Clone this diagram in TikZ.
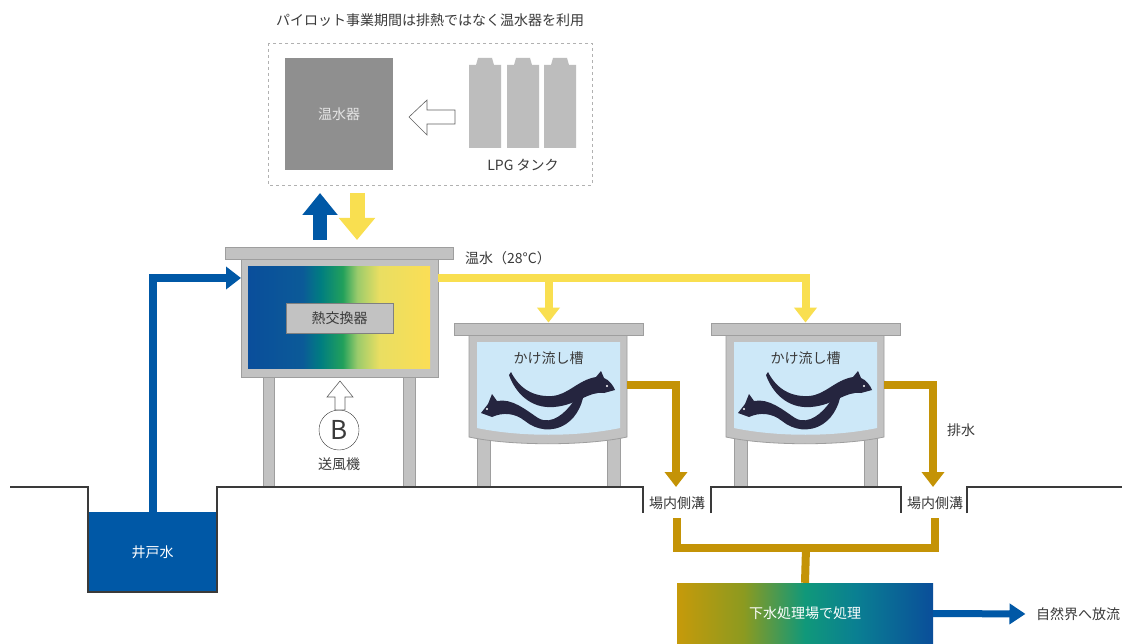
\documentclass[tikz,border=0pt]{standalone}
\usepackage{fontspec}
\setmainfont{Noto Sans CJK JP}
\usetikzlibrary{arrows.meta}

\definecolor{wellblue}{HTML}{0058A6}
\definecolor{hotyellow}{HTML}{F9DF50}
\definecolor{drainbrown}{HTML}{C49306}
\definecolor{framegray}{HTML}{C2C2C2}
\definecolor{edgegray}{HTML}{9E9E9E}
\definecolor{heatergray}{HTML}{8F8F8F}
\definecolor{lpggray}{HTML}{BDBDBD}
\definecolor{tankblue}{HTML}{CDE8F8}
\definecolor{eelnavy}{HTML}{25253F}
\definecolor{textgray}{HTML}{3A3A3A}

% blue (cold) to yellow (warm) across the exchanger
\definecolor{hxa}{HTML}{0A4E9B}
\definecolor{hxb}{HTML}{0B5A98}
\definecolor{hxc}{HTML}{007E80}
\definecolor{hxd}{HTML}{22A05B}
\definecolor{hxe}{HTML}{9ACB6B}
\definecolor{hxf}{HTML}{E9DE62}
\definecolor{hxg}{HTML}{FBDE55}
\pgfdeclarehorizontalshading{hxshade}{100bp}{color(0bp)=(hxa); color(25bp)=(hxa);
  color(40bp)=(hxb); color(45bp)=(hxc); color(51bp)=(hxd); color(55bp)=(hxe);
  color(61bp)=(hxf); color(75bp)=(hxg); color(100bp)=(hxg)}

% sewage plant: brown water in, blue water out
\definecolor{spa}{HTML}{C69A0A}
\definecolor{spb}{HTML}{8C9A20}
\definecolor{spc}{HTML}{10987A}
\definecolor{spd}{HTML}{0A7F92}
\definecolor{spe}{HTML}{0A4E9A}
\pgfdeclarehorizontalshading{plantshade}{100bp}{color(0bp)=(spa); color(25bp)=(spa);
  color(38bp)=(spb); color(50bp)=(spc); color(60bp)=(spd); color(75bp)=(spe); color(100bp)=(spe)}

% two eels, in the coordinates of the first tank
\newcommand\drawEels{%
  \fill[eelnavy] (511,372) .. controls (520,390) and (535,397) .. (552,396)
    .. controls (568,395) and (578,380) .. (596,377) -- (601,371) -- (604,378)
    .. controls (609,380) and (613,385) .. (615,390) -- (604,393)
    .. controls (588,391) and (578,405) .. (554,407)
    .. controls (530,409) and (515,392) .. (509,375) -- cycle;
  \fill[eelnavy] (481,413) -- (488,404) -- (492,394) -- (497,401)
    .. controls (512,398) and (526,410) .. (538,418)
    .. controls (552,426) and (566,412) .. (573,402)
    .. controls (577,397) and (580,394) .. (584,392)
    .. controls (583,402) and (578,416) .. (566,424)
    .. controls (552,433) and (536,430) .. (525,421)
    .. controls (515,413) and (503,412) .. (492,417) -- cycle;
  \fill[white] (607,386) circle (1.1) (487,409) circle (1.1);
}

\begin{document}
\begin{tikzpicture}[x=1pt,y=-1pt,
    every node/.style={text=textgray,font=\fontsize{14}{16}\selectfont},
    frame/.style={fill=framegray,draw=edgegray,line width=0.8pt},
    pipe/.style={line width=8pt},
    pipetip/.style={-{Triangle[width=22pt,length=15pt]}},
    ground/.style={draw=textgray,line width=1.1pt},
    hollow/.style={draw=textgray!80,fill=white,line width=0.6pt}]
  \fill[white] (0,0) rectangle (1127,644);
  \useasboundingbox (0,0) rectangle (1127,644);

  % water heater fed by LPG during the pilot
  \node (note) at (430,20) {パイロット事業期間は排熱ではなく温水器を利用};
  \draw[edgegray!80,dash pattern=on 3pt off 3pt] (268,43) rectangle (592,185);
  \node[fill=heatergray,minimum width=108pt,minimum height=112pt,text=white!90!black] (heater) at (339,114) {温水器};
  \foreach \x in {469,507,544}
    \fill[lpggray] (\x,148) -- (\x,65) -- (\x+7,65) -- (\x+9,58) -- (\x+23,58)
      -- (\x+25,65) -- (\x+32,65) -- (\x+32,148) -- cycle;
  \node (lpg) at (523,165) {LPG タンク};
  \draw[hollow] (409,117) -- (427,100) -- (427,110) -- (455,110) -- (455,124)
    -- (427,124) -- (427,135) -- cycle;
  \draw[wellblue,line width=14pt,-{Triangle[width=34pt,length=22pt]}] (320,240) -- (320,193);
  \draw[hotyellow,line width=15pt,-{Triangle[width=35pt,length=22pt]}] (357,193) -- (357,240);

  % heat exchanger
  \draw[frame] (263,377) rectangle (274,487);
  \draw[frame] (403,377) rectangle (415,487);
  \node[frame,minimum width=197pt,minimum height=118pt] (hx) at (339.5,318) {};
  \node[frame,minimum width=228pt,minimum height=12pt] (hxtop) at (339,253) {};
  \shade[shading=hxshade] (248,267) rectangle (430,368);
  \node[fill=framegray,draw=gray,line width=0.6pt,minimum width=107pt,minimum height=30pt] (hxlabel) at (339.5,318) {熱交換器};
  \coordinate (hxin) at (241,278);
  \coordinate (hxout) at (438,278);

  % blower
  \node[circle,draw=textgray,fill=white,minimum size=40pt,inner sep=0pt,font=\fontsize{26}{28}\selectfont] (fan) at (339,430) {B};
  \draw[hollow] (335,410) -- (335,397) -- (327,397) -- (340,381) -- (353,397)
    -- (345,397) -- (345,410) -- cycle;
  \node (fanlabel) at (339,464) {送風機};

  % eel tanks
  \foreach \dx/\n in {0/1,257/2}{
    \begin{scope}[shift={(\dx,0)}]
      \draw[frame] (477,437) rectangle (490,487);
      \draw[frame] (607,437) rectangle (620,487);
      \draw[frame] (469,335) -- (469,437) .. controls (510,446) and (586,446) .. (627,437) -- (627,335) -- cycle;
      \fill[tankblue] (477,342) -- (477,428) .. controls (520,437) and (577,437) .. (620,428) -- (620,342) -- cycle;
      \node[frame,minimum width=189pt,minimum height=12pt] (slab\n) at (548.5,329) {};
      \node (tank\n) at (548.5,358) {かけ流し槽};
      \drawEels
      \coordinate (drain\n) at (627,385);
      \coordinate (ditch\n) at (676,487);
    \end{scope}
  }

  % ground, well and side ditches
  \node[fill=wellblue,minimum width=129pt,minimum height=80pt,text=white] (well) at (152.5,552) {井戸水};
  \draw[ground] (10,487) -| (88,592) -| (217,487) -| (643,513);
  \draw[ground] (711,513) |- (901,487) -- (901,513);
  \draw[ground] (967,513) |- (1122,487);
  \node (gutter1) at (677,503) {場内側溝};
  \node (gutter2) at (935,503) {場内側溝};

  % pipes
  \draw[wellblue,pipe,pipetip] (well.north) |- (hxin);
  \draw[hotyellow,pipe,pipetip] (hxout) -| (slab2.north);
  \draw[hotyellow,pipe,pipetip] (slab1.north |- hxout) -- (slab1.north);
  \node (hotlabel) at (508,258) {温水（28°C）};
  \foreach \n in {1,2}
    \draw[drainbrown,pipe,pipetip] (drain\n) -| (ditch\n);
  \node (drainlabel) at (961,430) {排水};

  % sewage treatment and discharge
  \node[shading=plantshade,minimum width=256pt,minimum height=61pt,text=white] (plant) at (805,613.5) {下水処理場で処理};
  \coordinate (join) at (806,548);
  \draw[drainbrown,pipe,shorten <=5pt,shorten >=5pt] (gutter1.south) |- (join) -| (gutter2.south);
  \draw[drainbrown,pipe] (join) -- (plant.north);
  \node (outflow) at (1078,614) {自然界へ放流};
  \draw[wellblue,line width=7pt,-{Triangle[width=20pt,length=16pt]},shorten >=7pt] (plant.east) -- (outflow.west);
\end{tikzpicture}
\end{document}
